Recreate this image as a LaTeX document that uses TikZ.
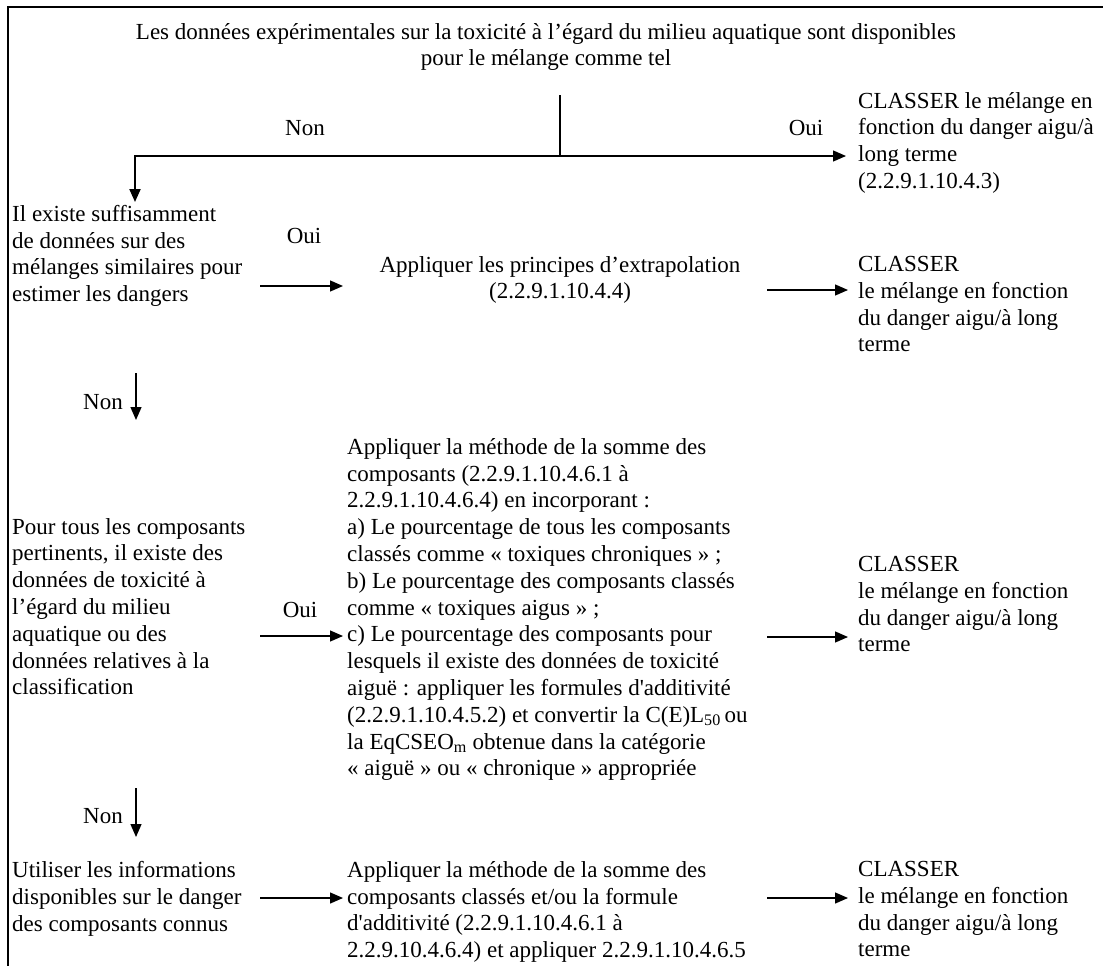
\documentclass[tikz,border=0pt]{standalone}
\usepackage{fontspec}
\setmainfont{Liberation Serif}
\usetikzlibrary{arrows.meta}
\begin{document}
\begin{tikzpicture}[x=1pt,y=-1pt,
  txt/.style={inner sep=0pt, align=left, anchor=north west, font=\fontsize{23}{26.8}\selectfont},
  ctxt/.style={inner sep=0pt, align=center, anchor=north, font=\fontsize{23}{26.8}\selectfont},
  lbl/.style={inner sep=0pt, font=\fontsize{23}{26.8}\selectfont},
  conn/.style={line width=1.3pt},
  thick conn/.style={line width=2pt},
  arr/.style={line width=1.3pt, -{Triangle[length=13pt,width=11pt]}},
  thick arr/.style={line width=2pt, -{Triangle[length=13pt,width=11pt]}},
  frame/.style={line width=2.2pt}]
\useasboundingbox (0,0) rectangle (1103,966);
% frame
\coordinate (f1) at (8,966);
\coordinate (f2) at (8,7);
\coordinate (f3) at (1103,7);
\draw[frame] (f1) -- (f2) -- (f3);

% nodes
\node[ctxt] (title) at (546,23) {Les données expérimentales sur la toxicité à l’égard du milieu aquatique sont disponibles\\pour le mélange comme tel};
\node[txt] (c1) at (858,92) {CLASSER le mélange en\\fonction du danger aigu/à\\long terme\\(2.2.9.1.10.4.3)};
\node[txt] (q1) at (12,205) {Il existe suffisamment\\de données sur des\\mélanges similaires pour\\estimer les dangers};
\node[ctxt] (a1) at (560,256) {Appliquer les principes d’extrapolation\\(2.2.9.1.10.4.4)};
\node[txt] (c2) at (858,256) {CLASSER\\le mélange en fonction\\du danger aigu/à long\\terme};
\node[txt] (q2) at (12,518) {Pour tous les composants\\pertinents, il existe des\\données de toxicité à\\l’égard du milieu\\aquatique ou des\\données relatives à la\\classification};
\node[txt] (a2) at (347,438) {Appliquer la méthode de la somme des\\composants (2.2.9.1.10.4.6.1 à\\2.2.9.1.10.4.6.4) en incorporant :\\a) Le pourcentage de tous les composants\\classés comme « toxiques chroniques » ;\\b) Le pourcentage des composants classés\\comme « toxiques aigus » ;\\c) Le pourcentage des composants pour\\lesquels il existe des données de toxicité\\aiguë : appliquer les formules d\textquotesingle additivité\\(2.2.9.1.10.4.5.2) et convertir la C(E)L\textsubscript{50}\,ou\\la EqCSEO\textsubscript{m} obtenue dans la catégorie\\« aiguë » ou « chronique » appropriée};
\node[txt] (c3) at (858,556) {CLASSER\\le mélange en fonction\\du danger aigu/à long\\terme};
\node[txt] (q3) at (12,861) {Utiliser les informations\\disponibles sur le danger\\des composants connus};
\node[txt] (a3) at (347,861) {Appliquer la méthode de la somme des\\composants classés et/ou la formule\\d\textquotesingle additivité (2.2.9.1.10.4.6.1 à\\2.2.9.10.4.6.4) et appliquer 2.2.9.1.10.4.6.5};
\node[txt] (c4) at (858,861) {CLASSER\\le mélange en fonction\\du danger aigu/à long\\terme};

% labels
\node[lbl] (non0) at (305,128) {Non};
\node[lbl] (oui0) at (806,128) {Oui};
\node[lbl] (oui1) at (304,236) {Oui};
\node[lbl] (non1) at (103,402) {Non};
\node[lbl] (oui2) at (300,610) {Oui};
\node[lbl] (non2) at (103,816) {Non};

% connector coordinates
\coordinate (t0) at (560,95);
\coordinate (t1) at (560,156);
\coordinate (hm) at (471,156);
\coordinate (hl) at (135,156);
\coordinate (hr) at (846,156);
\coordinate (d1) at (135,202);
\coordinate (r1a) at (260,286);
\coordinate (r1b) at (343,286);
\coordinate (r1c) at (767,290);
\coordinate (r1d) at (848,290);
\coordinate (n1a) at (136,373);
\coordinate (n1b) at (136,420);
\coordinate (r2a) at (260,636);
\coordinate (r2b) at (343,636);
\coordinate (r2c) at (767,637);
\coordinate (r2d) at (848,637);
\coordinate (n2a) at (136,788);
\coordinate (n2b) at (136,837);
\coordinate (r3a) at (260,898);
\coordinate (r3b) at (343,898);
\coordinate (r3c) at (767,898);
\coordinate (r3d) at (848,898);

% connectors
\draw[conn] (t0) -- (t1);
\draw[arr] (hm) -- (hr);
\draw[thick arr] (hm) -- (hl) -- (d1);
\draw[arr] (r1a) -- (r1b);
\draw[arr] (r1c) -- (r1d);
\draw[arr] (n1a) -- (n1b);
\draw[arr] (r2a) -- (r2b);
\draw[arr] (r2c) -- (r2d);
\draw[arr] (n2a) -- (n2b);
\draw[arr] (r3a) -- (r3b);
\draw[arr] (r3c) -- (r3d);
\end{tikzpicture}
\end{document}
